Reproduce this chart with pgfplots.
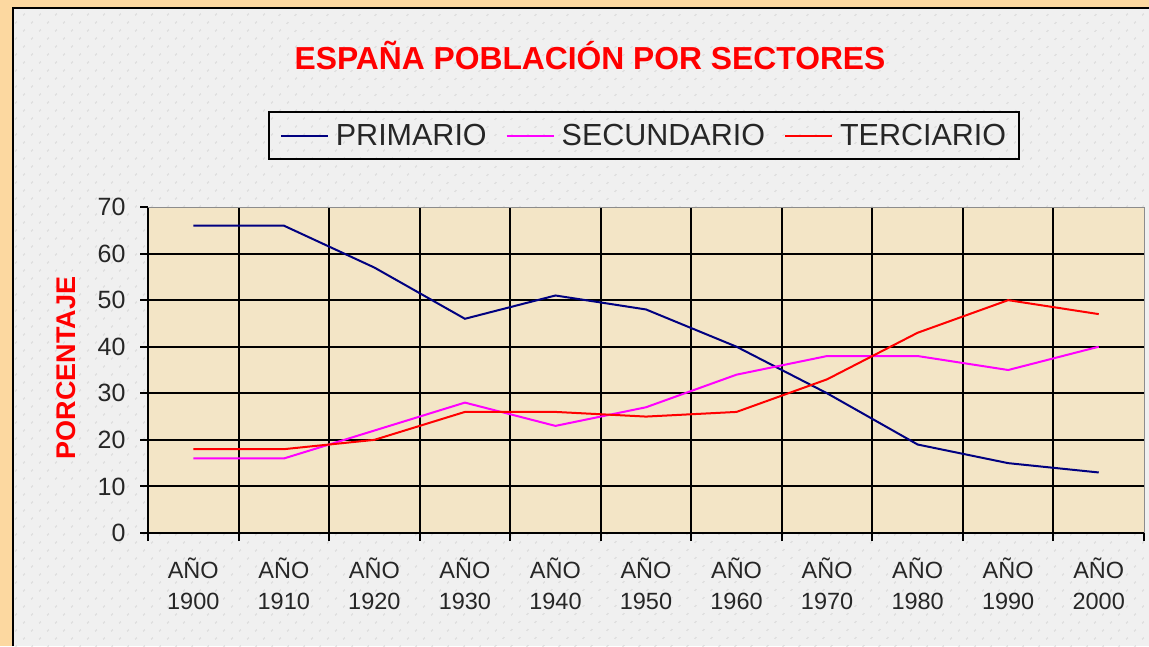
\documentclass[border=0pt]{standalone}
\usepackage{pgfplots}
\pgfplotsset{compat=1.18}
\usepackage{fontspec}
\setmainfont{Liberation Sans}
\usetikzlibrary{patterns.meta}
\definecolor{tanframe}{RGB}{252,216,160}
\definecolor{panelbg}{RGB}{240,240,240}
\definecolor{plotbg}{RGB}{243,229,198}
\definecolor{navyline}{RGB}{0,0,128}
\definecolor{magline}{RGB}{255,0,255}
\definecolor{redline}{RGB}{255,0,0}
\begin{document}
\begin{tikzpicture}
\fill[tanframe] (0pt,0pt) rectangle (1149pt,-646pt);
\fill[panelbg] (12.5pt,-7.5pt) rectangle (1149pt,-646pt);
\fill[pattern={Dots[distance=11.31pt, angle=45, radius=0.9pt]}, pattern color=black!18] (12.5pt,-7.5pt) rectangle (1149pt,-646pt);
\draw[black, line width=2pt] (12.5pt,-646pt) -- (12.5pt,-7.5pt) -- (1149pt,-7.5pt);
\begin{axis}[
  at={(148pt,-533pt)}, anchor=south west,
  scale only axis, width=996pt, height=326pt,
  xmin=-0.5, xmax=10.5, ymin=0, ymax=70,
  axis background/.style={fill=plotbg},
  axis x line*=bottom, axis y line*=left,
  axis line style={black, line width=2pt},
  tick align=outside,
  major tick length=8pt, minor tick length=8pt,
  every tick/.style={black, line width=2pt},
  xtick={-0.5,0.5,...,9.5},
  xticklabels={},
  minor xtick={10.5},
  xmajorgrids,
  extra x ticks={0,1,...,10},
  extra x tick labels={{AÑO\\1900},{AÑO\\1910},{AÑO\\1920},{AÑO\\1930},{AÑO\\1940},{AÑO\\1950},{AÑO\\1960},{AÑO\\1970},{AÑO\\1980},{AÑO\\1990},{AÑO\\2000}},
  extra x tick style={grid=none, major tick length=0pt, tick label style={align=center, font=\fontsize{23.5}{31}\selectfont, text=black!85, yshift=-21pt}},
  ytick={0,10,...,60},
  ymajorgrids,
  extra y ticks={70},
  extra y tick style={grid=none},
  grid style={black, line width=2pt},
  yticklabel style={font=\fontsize{25}{30}\selectfont, text=black!85, xshift=-11pt},
  /pgf/number format/assume math mode=true,
  ylabel={PORCENTAJE},
  ylabel style={at={(axis description cs:-0.0823,0.506)}, anchor=center, font=\fontsize{27}{30}\selectfont\bfseries, text=redline},
  legend columns=3,
  legend style={at={(rel axis cs:0.498,1.219)}, anchor=center, draw=black, line width=1.8pt, fill=none,
     font=\fontsize{30.5}{34}\selectfont, text=black!85, inner xsep=11pt, inner ysep=10pt,
     nodes={inner xsep=2pt},
     /tikz/every odd column/.append style={column sep=5pt},
     /tikz/every even column/.append style={column sep=17pt}},
  legend image code/.code={\draw[#1, line width=2pt] (0pt,0pt) -- (47pt,0pt);},
  clip=false,
]
\addplot[navyline, line width=2pt] coordinates {(0,66) (1,66) (2,57) (3,46) (4,51) (5,48) (6,40) (7,30) (8,19) (9,15) (10,13)};
\addlegendentry{PRIMARIO}
\addplot[magline, line width=2pt] coordinates {(0,16) (1,16) (2,22) (3,28) (4,23) (5,27) (6,34) (7,38) (8,38) (9,35) (10,40)};
\addlegendentry{SECUNDARIO}
\addplot[redline, line width=2pt] coordinates {(0,18) (1,18) (2,20) (3,26) (4,26) (5,25) (6,26) (7,33) (8,43) (9,50) (10,47)};
\addlegendentry{TERCIARIO}
\draw[black!45, line width=1pt] (rel axis cs:0,1) -- (rel axis cs:1,1) -- (rel axis cs:1,0);
\end{axis}
\node[text=redline, font=\fontsize{31.8}{34}\selectfont\bfseries] at (590pt,-55pt) {ESPAÑA POBLACIÓN POR SECTORES};
\pgfresetboundingbox
\path[use as bounding box] (0pt,0pt) rectangle (1149pt,-646pt);
\end{tikzpicture}
\end{document}
